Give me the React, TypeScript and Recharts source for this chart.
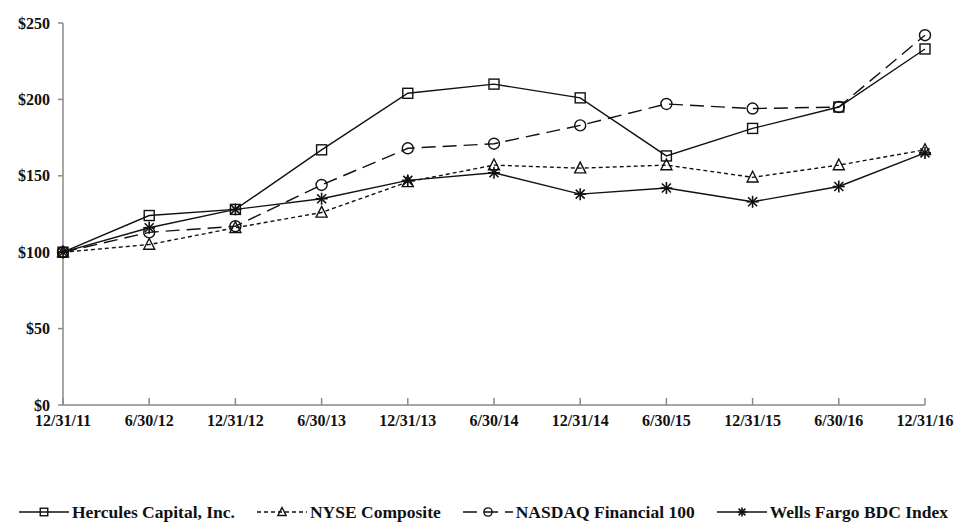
import React from 'react';
import { LineChart, Line, XAxis, YAxis, Legend } from 'recharts';

const categories = ['12/31/11', '6/30/12', '12/31/12', '6/30/13', '12/31/13', '6/30/14', '12/31/14', '6/30/15', '12/31/15', '6/30/16', '12/31/16'];
const hercules = [100, 124, 128, 167, 204, 210, 201, 163, 181, 195, 233];
const nyse = [100, 105, 116, 126, 146, 157, 155, 157, 149, 157, 167];
const nasdaq = [100, 113, 117, 144, 168, 171, 183, 197, 194, 195, 242];
const wells = [100, 116, 128, 135, 147, 152, 138, 142, 133, 143, 165];
const yTicks = [0, 50, 100, 150, 200, 250];

const seriesNames = ['Hercules Capital, Inc.', 'NYSE Composite', 'NASDAQ Financial 100', 'Wells Fargo BDC Index'];

const data = categories.map((date, i) => ({
  date,
  hercules: hercules[i],
  nyse: nyse[i],
  nasdaq: nasdaq[i],
  wells: wells[i],
}));

const FONT = '"Liberation Serif", "Times New Roman", serif';
const AXIS = '#8a8a8a';
const INK = '#111';

type MarkerKind = 'square' | 'triangle' | 'circle' | 'star';

function Marker({ kind, cx, cy, s = 1 }: { kind: MarkerKind; cx: number; cy: number; s?: number }) {
  const sw = 1.4;
  if (kind === 'square') {
    const h = 5 * s;
    return <rect x={cx - h} y={cy - h} width={2 * h} height={2 * h} fill="none" stroke={INK} strokeWidth={sw} />;
  }
  if (kind === 'triangle') {
    const h = 5.5 * s;
    return (
      <path
        d={`M${cx},${cy - h * 1.1} L${cx + h},${cy + h * 0.85} L${cx - h},${cy + h * 0.85} Z`}
        fill="none"
        stroke={INK}
        strokeWidth={sw}
      />
    );
  }
  if (kind === 'circle') {
    return <circle cx={cx} cy={cy} r={5.5 * s} fill="none" stroke={INK} strokeWidth={sw} />;
  }
  const r = 6 * s;
  const d = r * 0.75;
  return (
    <g stroke={INK} strokeWidth={1.6}>
      <line x1={cx} y1={cy - r} x2={cx} y2={cy + r} />
      <line x1={cx - r} y1={cy} x2={cx + r} y2={cy} />
      <line x1={cx - d} y1={cy - d} x2={cx + d} y2={cy + d} />
      <line x1={cx - d} y1={cy + d} x2={cx + d} y2={cy - d} />
    </g>
  );
}

const makeDot = (kind: MarkerKind) => (props: any) => {
  const { cx, cy, index } = props;
  if (cx == null || cy == null) return <g key={`n-${index}`} />;
  return (
    <g key={`${kind}-${index}`}>
      <Marker kind={kind} cx={cx} cy={cy} />
    </g>
  );
};

const XTick = (props: any) => {
  const { x, y, payload } = props;
  return (
    <g>
      <line x1={x} y1={y} x2={x} y2={y - 7} stroke={AXIS} strokeWidth={1.5} />
      <text x={x} y={y + 21} textAnchor="middle" fontFamily={FONT} fontWeight="bold" fontSize={16} fill={INK}>
        {payload.value}
      </text>
    </g>
  );
};

const legendItems: { kind: MarkerKind; dash?: string }[] = [
  { kind: 'square' },
  { kind: 'triangle', dash: '4 3' },
  { kind: 'circle', dash: '14 7' },
  { kind: 'star' },
];

const LegendContent = () => (
  <div
    style={{
      display: 'flex',
      justifyContent: 'center',
      alignItems: 'center',
      gap: 22,
      height: 24,
      width: 967,
      fontFamily: FONT,
      fontWeight: 'bold',
      fontSize: 17.5,
      color: INK,
    }}
  >
    {legendItems.map((it, i) => (
      <div key={i} style={{ display: 'flex', alignItems: 'center' }}>
        <svg width={50} height={16} style={{ marginRight: 3 }}>
          <line x1={0} y1={8} x2={50} y2={8} stroke={INK} strokeWidth={1.4} strokeDasharray={it.dash} />
          <Marker kind={it.kind} cx={25} cy={8} s={0.75} />
        </svg>
        <span style={{ whiteSpace: 'nowrap' }}>{seriesNames[i]}</span>
      </div>
    ))}
  </div>
);

export default function App() {
  return (
    <div style={{ position: 'absolute', left: 0, top: 0, width: 967, height: 528, background: '#fff' }}>
      <LineChart width={967} height={528} data={data} margin={{ top: 23, right: 42, bottom: 4, left: 0 }}>
        <XAxis
          dataKey="date"
          type="category"
          interval={0}
          height={95}
          tickSize={0}
          tickMargin={0}
          tickLine={false}
          tick={<XTick />}
          axisLine={{ stroke: AXIS, strokeWidth: 1.5 }}
        />
        <YAxis
          width={63}
          domain={[0, 250]}
          ticks={yTicks}
          interval={0}
          tickFormatter={(v: number) => `$${v}`}
          tickSize={5}
          tickMargin={8}
          tickLine={{ stroke: AXIS, strokeWidth: 1.5 }}
          axisLine={{ stroke: AXIS, strokeWidth: 1.5 }}
          tick={{ fontFamily: FONT, fontWeight: 'bold', fontSize: 16, fill: INK }}
        />
        <Legend
          verticalAlign="bottom"
          content={<LegendContent />}
          wrapperStyle={{ left: 0, bottom: 4, width: 967, height: 24 }}
        />
        <Line dataKey="nyse" name={seriesNames[1]} stroke={INK} strokeWidth={1.4} strokeDasharray="4 3" dot={makeDot('triangle')} isAnimationActive={false} />
        <Line dataKey="nasdaq" name={seriesNames[2]} stroke={INK} strokeWidth={1.4} strokeDasharray="14 7" dot={makeDot('circle')} isAnimationActive={false} />
        <Line dataKey="wells" name={seriesNames[3]} stroke={INK} strokeWidth={1.4} dot={makeDot('star')} isAnimationActive={false} />
        <Line dataKey="hercules" name={seriesNames[0]} stroke={INK} strokeWidth={1.4} dot={makeDot('square')} isAnimationActive={false} />
      </LineChart>
    </div>
  );
}
